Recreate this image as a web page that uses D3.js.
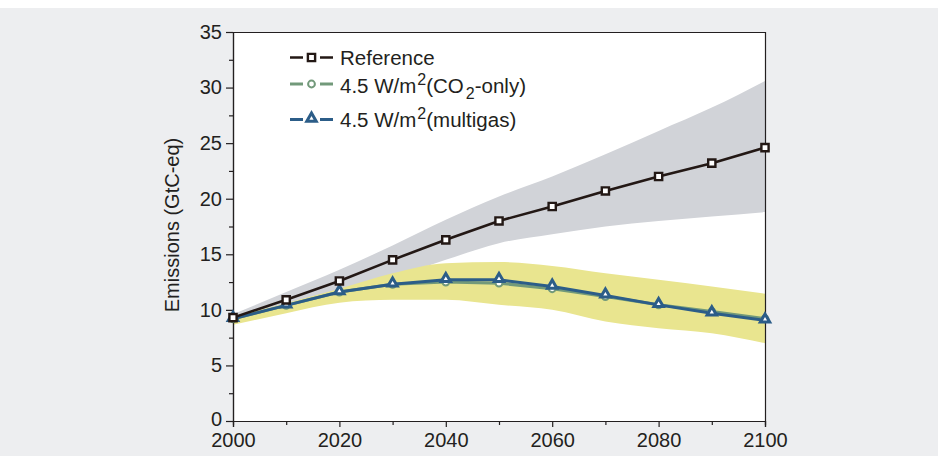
<!DOCTYPE html>
<html>
<head>
<meta charset="utf-8">
<script src="https://cdn.jsdelivr.net/npm/d3@7"></script>
<style>
  html, body { margin: 0; padding: 0; background: #ffffff; }
  svg { display: block; }
  text { font-family: "Liberation Sans", Arial, Helvetica, sans-serif; fill: #231f20; }
</style>
</head>
<body>
<svg id="chart" width="938" height="456"></svg>
<script>
// Emission pathways, 2000-2100 (GtC-eq)
const years = [2000, 2010, 2020, 2030, 2040, 2050, 2060, 2070, 2080, 2090, 2100];
const referenceVals = [9.3, 10.9, 12.6, 14.5, 16.3, 18.0, 19.3, 20.7, 22.0, 23.2, 24.6];
const co2OnlyVals   = [9.2, 10.4, 11.6, 12.3, 12.5, 12.4, 11.9, 11.2, 10.45, 9.85, 9.2];
const multigasVals  = [9.2, 10.4, 11.6, 12.3, 12.7, 12.7, 12.1, 11.3, 10.45, 9.7, 9.05];

// Uncertainty ranges
const refRangeHi = [9.6, 11.6, 13.6, 15.8, 18.1, 20.2, 22.0, 24.0, 26.1, 28.2, 30.6];
const refRangeLo = [9.0, 10.2, 11.5, 12.9, 14.5, 16.0, 16.8, 17.5, 18.0, 18.4, 18.8];
const stabRangeHi = [9.4, 10.6, 11.9, 13.3, 14.2, 14.3, 13.95, 13.3, 12.7, 12.1, 11.45];
const stabRangeLo = [8.65, 9.7, 10.65, 10.9, 10.9, 10.45, 10.0, 8.95, 8.35, 7.9, 7.0];

const yMajorTicks = [0, 5, 10, 15, 20, 25, 30, 35];
const yMinorTicks = [2.5, 7.5, 12.5, 17.5, 22.5, 27.5, 32.5];
const xMajorTicks = [2000, 2020, 2040, 2060, 2080, 2100];
const xMinorTicks = [2010, 2030, 2050, 2070, 2090];
const yTitle = "Emissions (GtC-eq)";

const svg = d3.select("#chart");
const W = 938, H = 456;
const margin = { left: 233, top: 32, right: 938 - 765, bottom: 456 - 421 };
const iw = W - margin.left - margin.right;
const ih = H - margin.top - margin.bottom;

// page backdrop
svg.append("rect").attr("x", 0).attr("y", 8).attr("width", W).attr("height", H - 8).attr("fill", "#edeef0");

const g = svg.append("g").attr("transform", `translate(${margin.left},${margin.top})`);
g.append("rect").attr("width", iw).attr("height", ih).attr("fill", "#ffffff");

const x = d3.scaleLinear().domain([2000, 2100]).range([0, iw]);
const y = d3.scaleLinear().domain([0, 35]).range([ih, 0]);

// shaded ranges
const area = (hi, lo) => d3.area()
  .x((d, i) => x(years[i]))
  .y0((d, i) => y(lo[i]))
  .y1((d, i) => y(hi[i]))
  .curve(d3.curveMonotoneX)(years);

g.append("path").attr("d", area(refRangeHi, refRangeLo)).attr("fill", "#d1d3d8");
g.append("path").attr("d", area(stabRangeHi, stabRangeLo)).attr("fill", "#e9e58f");

// frame: top and right border
g.append("line").attr("x1", 0).attr("x2", iw).attr("y1", 0.5).attr("y2", 0.5).attr("stroke", "#231f20").attr("stroke-width", 1.2);
g.append("line").attr("x1", iw + 0.5).attr("x2", iw + 0.5).attr("y1", 0).attr("y2", ih).attr("stroke", "#231f20").attr("stroke-width", 1.2);

// axes
const yAxis = g.append("g").call(d3.axisLeft(y).tickValues(yMajorTicks).tickSize(7).tickPadding(4).tickFormat(d3.format("d")));
const yMinor = g.append("g").call(d3.axisLeft(y).tickValues(yMinorTicks).tickSize(4).tickFormat(""));
const xAxis = g.append("g").attr("transform", `translate(0,${ih})`)
  .call(d3.axisBottom(x).tickValues(xMajorTicks).tickSize(6).tickPadding(6).tickFormat(d3.format("d")));
const xMinor = g.append("g").attr("transform", `translate(0,${ih})`)
  .call(d3.axisBottom(x).tickValues(xMinorTicks).tickSize(4).tickFormat(""));

[yAxis, yMinor, xAxis, xMinor].forEach(a => {
  a.selectAll("path.domain").attr("stroke", "#231f20").attr("stroke-width", 1.2);
  a.selectAll(".tick line").attr("stroke", "#231f20").attr("stroke-width", 1.2);
  a.selectAll("text").attr("font-size", 20).attr("fill", "#231f20")
    .attr("font-family", "Liberation Sans, Arial, sans-serif");
});
// nudge the zero label up a touch so it clears the year labels
yAxis.selectAll(".tick").filter(d => d === 0).select("text").attr("dy", "0.2em");

g.append("text")
  .attr("transform", `translate(${172 - margin.left},${225 - margin.top}) rotate(-90)`)
  .attr("text-anchor", "middle")
  .attr("dominant-baseline", "central")
  .attr("font-size", 20)
  .text(yTitle);

// series
const series = [
  { name: "co2", vals: co2OnlyVals, color: "#72997a", width: 3, symbol: "circle" },
  { name: "multigas", vals: multigasVals, color: "#2c5d88", width: 3, symbol: "triangle" },
  { name: "reference", vals: referenceVals, color: "#231815", width: 2.6, symbol: "square" }
];

const line = d3.line().x((d, i) => x(years[i])).y(d => y(d));

function drawMarker(sel, kind, color) {
  if (kind === "circle") {
    sel.append("circle").attr("r", 3.4).attr("fill", "#fff").attr("stroke", color).attr("stroke-width", 2);
  } else if (kind === "triangle") {
    sel.append("path").attr("d", d3.symbol(d3.symbolTriangle, 38)())
      .attr("transform", "translate(0,-1)")
      .attr("fill", "#fff").attr("stroke", color).attr("stroke-width", 3).attr("stroke-linejoin", "miter");
  } else {
    sel.append("path").attr("d", d3.symbol(d3.symbolSquare, 52)())
      .attr("fill", "#fff").attr("stroke", color).attr("stroke-width", 2.4);
  }
}

series.forEach(s => {
  g.append("path").attr("d", line(s.vals)).attr("fill", "none")
    .attr("stroke", s.color).attr("stroke-width", s.width).attr("stroke-linejoin", "round");
});
series.forEach(s => {
  s.vals.forEach((v, i) => {
    const m = g.append("g").attr("transform", `translate(${x(years[i])},${y(v)})`);
    drawMarker(m, s.symbol, s.color);
  });
});

// legend
const legend = svg.append("g");
const legendRows = [
  { y: 57.5, color: "#231815", symbol: "square", width: 2.6 },
  { y: 84, color: "#72997a", symbol: "circle", width: 3 },
  { y: 119.5, color: "#2c5d88", symbol: "triangle", width: 3 }
];
legendRows.forEach(r => {
  legend.append("line").attr("x1", 290).attr("x2", 333).attr("y1", r.y).attr("y2", r.y)
    .attr("stroke", r.color).attr("stroke-width", r.width);
  legend.append("rect").attr("x", 303).attr("y", r.y - 6).attr("width", 17).attr("height", 12).attr("fill", "#fff");
  const m = legend.append("g").attr("transform", `translate(311.5,${r.y})`);
  drawMarker(m, r.symbol, r.color);
});

legend.append("text").attr("x", 340).attr("y", 65).attr("font-size", 20.5).text("Reference");

const t2 = legend.append("text").attr("x", 340).attr("y", 93).attr("font-size", 20.5);
t2.append("tspan").text("4.5 W/m");
t2.append("tspan").attr("font-size", 16).attr("dy", -8).attr("dx", 1).text("2");
t2.append("tspan").attr("dy", 8).text("(CO");
t2.append("tspan").attr("font-size", 16).attr("dy", 6).attr("dx", 2).text("2");
t2.append("tspan").attr("dy", -6).text("-only)");

const t3 = legend.append("text").attr("x", 340).attr("y", 127).attr("font-size", 20.5);
t3.append("tspan").text("4.5 W/m");
t3.append("tspan").attr("font-size", 16).attr("dy", -8).attr("dx", 1).text("2");
t3.append("tspan").attr("dy", 8).text("(multigas)");
</script>
</body>
</html>
